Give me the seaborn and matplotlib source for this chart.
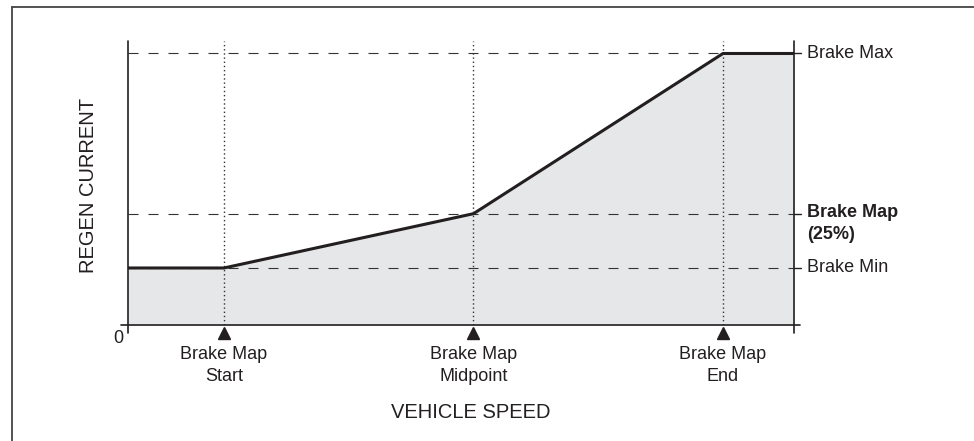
import matplotlib
matplotlib.use("Agg")
import matplotlib.pyplot as plt
import seaborn as sns
import pandas as pd
from matplotlib.lines import Line2D

# speed breakpoints (arbitrary units) and regen current (% of Brake Max)
speed = [0, 10, 36, 62, 69.4]
current = [21, 21, 41, 100, 100]

marker_x = [10, 36, 62]
marker_labels = ["Brake Map\nStart", "Brake Map\nMidpoint", "Brake Map\nEnd"]

level_y = [100, 41, 21]
level_labels = ["Brake Max", "Brake Map\n(25%)", "Brake Min"]
level_bold = [False, True, False]

x_max = 69.4
y_max = 104.6

df = pd.DataFrame({"speed": speed, "current": current})

sns.set_theme(style="white")
plt.rcParams["font.family"] = ["Liberation Sans", "DejaVu Sans"]

ink = "#231f20"

fig = plt.figure(figsize=(9.74, 4.41), dpi=100)
ax = fig.add_axes([128 / 974, 1 - 325 / 441, (794 - 128) / 974, (325 - 41) / 441])

ax.fill_between(df["speed"], df["current"], 0, color="#e6e7e8", lw=0, zorder=1)

# reference levels
for y in level_y:
    ax.plot([0, x_max], [y, y], color="#333333", lw=0.8, dashes=(9, 9), zorder=2)
for x in marker_x:
    ax.plot([x, x], [0, y_max], color="#333333", lw=1.0, ls=(0, (1, 2)), zorder=2)

sns.lineplot(data=df, x="speed", y="current", color=ink, lw=2.2, ax=ax, zorder=4,
             sort=False, estimator=None)

# axes lines
ax.plot([0, 0], [-3, y_max], color=ink, lw=1.2, clip_on=False, zorder=5)
ax.plot([-0.7, 70.0], [0, 0], color=ink, lw=1.2, clip_on=False, zorder=5)
ax.plot([x_max, x_max], [-3, y_max], color=ink, lw=1.2, clip_on=False, zorder=5)
for y in level_y:
    ax.plot([x_max, 70.1], [y, y], color=ink, lw=1.0, clip_on=False, zorder=5)

ax.plot(marker_x, [-3] * 3, ls="none", marker="^", ms=9, color=ink, clip_on=False, zorder=6)

for x, lab in zip(marker_x, marker_labels):
    ax.text(x, -7.9, lab, ha="center", va="top", fontsize=13, color=ink, linespacing=1.32)

for y, lab, b in zip(level_y, level_labels, level_bold):
    if "\n" in lab:
        ax.text(70.8, y + 3.4, lab, ha="left", va="top", fontsize=13, color=ink,
                fontweight="bold" if b else "normal", linespacing=1.32)
    else:
        ax.text(70.8, y, lab, ha="left", va="center", fontsize=13, color=ink,
                fontweight="bold" if b else "normal")

ax.text(-1.0, -4.8, "0", ha="center", va="center", fontsize=13, color=ink)

ax.set_xlim(0, x_max)
ax.set_ylim(0, y_max)
ax.set_xticks([])
ax.set_yticks([])
ax.set_xlabel("")
ax.set_ylabel("")
for s in ax.spines.values():
    s.set_visible(False)
ax.patch.set_alpha(0)

fig.text(471 / 974, 1 - 413 / 441, "VEHICLE SPEED", ha="center", va="center",
         fontsize=14.5, color=ink)
fig.text(88 / 974, 1 - 185 / 441, "REGEN CURRENT", ha="center", va="center",
         rotation=90, fontsize=14.5, color=ink)

# frame on left and top
fig.add_artist(Line2D([11.5 / 974, 11.5 / 974], [0, 1 - 6.5 / 441], color="#444444", lw=1.3))
fig.add_artist(Line2D([11.5 / 974, 1], [1 - 6.5 / 441, 1 - 6.5 / 441], color="#444444", lw=1.3))

fig.savefig("out.png", dpi=100)
